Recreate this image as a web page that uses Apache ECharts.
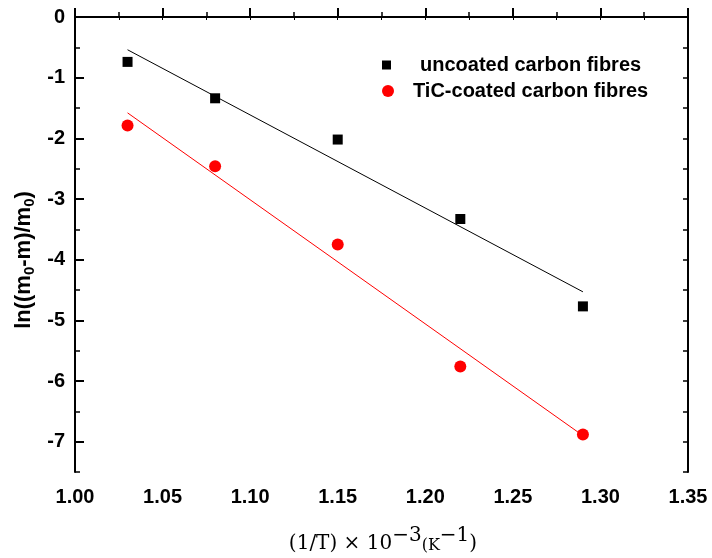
<!DOCTYPE html>
<html>
<head>
<meta charset="utf-8">
<script src="https://cdn.jsdelivr.net/npm/echarts@6/dist/echarts.min.js"></script>
<style>
  html, body { margin: 0; padding: 0; background: #fff; }
  #chart { width: 712px; height: 558px; }
</style>
</head>
<body>
<div id="chart"></div>
<script>
// 1/T x 10^-3 values
var invT = [1.03, 1.08, 1.15, 1.22, 1.29];
var uncoated = [-0.74, -1.34, -2.02, -3.33, -4.77];
var ticCoated = [-1.79, -2.46, -3.75, -5.76, -6.88];
// fitted lines, end points
var fitX = [1.03, 1.29];
var fitUncoated = [-0.54, -4.53];
var fitTic = [-1.58, -6.90];
var yMajorTicks = [0, -1, -2, -3, -4, -5, -6, -7];

var FONT = 'Liberation Sans';

function pairs(xs, ys) {
    return xs.map(function (x, i) { return [x, ys[i]]; });
}

var myChart = echarts.init(document.getElementById('chart'));

var labelStyle = {
    fontFamily: FONT,
    fontWeight: 'bold',
    fontSize: 20,
    color: '#000'
};

var option = {
    backgroundColor: '#fff',
    animation: false,
    grid: { left: 75, right: 24, top: 17, bottom: 86 },
    legend: [
        {
            data: ['uncoated carbon fibres'],
            left: 382, top: 55, padding: 0,
            itemWidth: 9, itemHeight: 9,
            textStyle: { fontFamily: FONT, fontWeight: 'bold', fontSize: 20, color: '#000', padding: [0, 0, 0, 24] }
        },
        {
            data: ['TiC-coated carbon fibres'],
            left: 382, top: 81, padding: 0,
            itemWidth: 12, itemHeight: 12,
            textStyle: { fontFamily: FONT, fontWeight: 'bold', fontSize: 20, color: '#000', padding: [0, 0, 0, 14] }
        }
    ],
    xAxis: [
        {
            type: 'value', position: 'bottom',
            min: 1.00, max: 1.35, interval: 0.05,
            axisLine: { lineStyle: { color: '#000', width: 2 } },
            axisTick: { inside: true, length: 9, lineStyle: { color: '#000', width: 2 } },
            minorTick: { show: true, splitNumber: 2, length: 5, lineStyle: { color: '#000', width: 1.5 } },
            axisLabel: Object.assign({ margin: 15, formatter: function (v) { return v.toFixed(2); } }, labelStyle),
            splitLine: { show: false }
        },
        {
            type: 'value', position: 'top',
            min: 1.00, max: 1.35, interval: 0.025,
            axisLine: { lineStyle: { color: '#000', width: 2 } },
            axisTick: { inside: true, length: 3, lineStyle: { color: '#000', width: 1 } },
            axisLabel: { show: false },
            splitLine: { show: false }
        }
    ],
    yAxis: [
        {
            type: 'value', position: 'left',
            min: -7.5, max: 0, interval: 0.5,
            axisLine: { lineStyle: { color: '#000', width: 2 } },
            axisTick: { inside: true, length: 5, lineStyle: { color: '#000', width: 1.5 } },
            axisLabel: Object.assign({
                margin: 10,
                formatter: function (v) { return Number.isInteger(v) ? String(v) : ''; }
            }, labelStyle),
            splitLine: { show: false }
        },
        {
            type: 'value', position: 'right',
            min: -7.5, max: 0, interval: 0.5,
            axisLine: { lineStyle: { color: '#000', width: 2 } },
            axisTick: { inside: true, length: 5, lineStyle: { color: '#000', width: 1.5 } },
            axisLabel: { show: false },
            splitLine: { show: false }
        },
        {
            // longer major ticks on the left axis
            type: 'value', position: 'left',
            min: -7.5, max: 0,
            axisLine: { show: false },
            axisTick: { inside: true, length: 9, customValues: yMajorTicks, lineStyle: { color: '#000', width: 2 } },
            axisLabel: { show: false },
            splitLine: { show: false }
        }
    ],
    graphic: [
        {
            type: 'text', x: 25, y: 260, rotation: Math.PI / 2,
            style: {
                text: '{a|ln((m}{sub|0}{a|-m)/m}{sub|0}{a|)}',
                align: 'center', verticalAlign: 'middle',
                rich: {
                    a: { fontFamily: FONT, fontWeight: 'bold', fontSize: 22, lineHeight: 24, verticalAlign: 'top', fill: '#000' },
                    sub: { fontFamily: FONT, fontWeight: 'bold', fontSize: 15, lineHeight: 15, padding: [13, 0, 0, 0], verticalAlign: 'bottom', fill: '#000' }
                }
            }
        },
        {
            type: 'text', x: 383, y: 540,
            style: {
                text: '{a|(1/T) \u00d7 10}{sup|\u22123}{b|(K}{sup|\u22121}{a|)}',
                align: 'center', verticalAlign: 'middle',
                rich: {
                    a: { fontFamily: 'DejaVu Serif', fontSize: 20, lineHeight: 28, verticalAlign: 'bottom', fill: '#000' },
                    b: { fontFamily: 'DejaVu Serif', fontSize: 16, lineHeight: 26, verticalAlign: 'bottom', fill: '#000' },
                    sup: { fontFamily: 'DejaVu Serif', fontSize: 20, lineHeight: 20, verticalAlign: 'top', fill: '#000' }
                }
            }
        }
    ],
    series: [
        {
            name: 'uncoated carbon fibres',
            type: 'scatter',
            symbol: 'rect', symbolSize: 10,
            itemStyle: { color: '#000', opacity: 1 },
            data: pairs(invT, uncoated),
            z: 3
        },
        {
            name: 'TiC-coated carbon fibres',
            type: 'scatter',
            symbol: 'circle', symbolSize: 12,
            itemStyle: { color: '#ff0000', opacity: 1 },
            data: pairs(invT, ticCoated),
            z: 3
        },
        {
            name: 'fit uncoated',
            type: 'line', showSymbol: false,
            lineStyle: { color: '#000', width: 1 },
            data: pairs(fitX, fitUncoated),
            z: 2
        },
        {
            name: 'fit TiC',
            type: 'line', showSymbol: false,
            lineStyle: { color: '#ff0000', width: 1 },
            data: pairs(fitX, fitTic),
            z: 2
        }
    ]
};

myChart.setOption(option, true);
</script>
</body>
</html>
